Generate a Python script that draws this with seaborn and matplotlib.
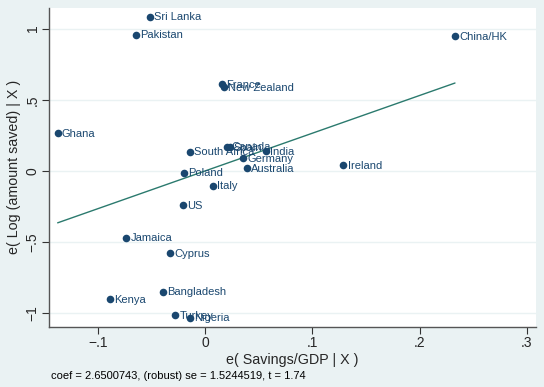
import numpy as np
import pandas as pd
import matplotlib
matplotlib.use("Agg")
import matplotlib.pyplot as plt
import seaborn as sns

# residuals
countries = ["Sri Lanka", "Pakistan", "China/HK", "France", "New Zealand", "Ghana",
             "Canada", "Spain", "South Africa", "India", "Germany", "Australia",
             "Poland", "Ireland", "Italy", "US", "Jamaica", "Cyprus",
             "Bangladesh", "Kenya", "Turkey", "Nigeria"]
e_savings = [-0.0513, -0.0646, 0.233, 0.0156, 0.018, -0.1373,
             0.0208, 0.023, -0.014, 0.0569, 0.0357, 0.0394,
             -0.0196, 0.129, 0.0075, -0.0208, -0.0733, -0.0323,
             -0.0389, -0.0885, -0.0277, -0.014]
e_logsaved = [1.083, 0.957, 0.947, 0.611, 0.587, 0.265,
              0.171, 0.166, 0.136, 0.138, 0.089, 0.019,
              -0.012, 0.042, -0.103, -0.239, -0.468, -0.578,
              -0.847, -0.900, -1.013, -1.029]

coef = 2.6500743
se = 1.5244519
t_stat = 1.74

xticks = [-0.1, 0, 0.1, 0.2, 0.3]
xticklabels = ["\u2212.1", "0", ".1", ".2", ".3"]
yticks = [-1, -0.5, 0, 0.5, 1]
yticklabels = ["\u22121", "\u2212.5", "0", ".5", "1"]

df = pd.DataFrame({"country": countries, "x": e_savings, "y": e_logsaved})

sns.set_style("white")
plt.rcParams["font.family"] = ["Liberation Sans", "DejaVu Sans"]

navy = "#1a476f"
bg = "#eaf2f3"

fig = plt.figure(figsize=(5.44, 3.87), dpi=100, facecolor=bg)
ax = fig.add_axes([0.0906, 0.1558, 0.8947, 0.8235])
ax.set_facecolor("white")

# horizontal grid lines
for yv in yticks:
    ax.axhline(yv, color=bg, lw=1.0, zorder=0)

# fitted line through origin with the reported slope
xs = np.array([df["x"].min(), df["x"].max()])
line_df = pd.DataFrame({"x": xs, "y": coef * xs})
sns.lineplot(data=line_df, x="x", y="y", color="#2b7a6e", lw=1.0, ax=ax, zorder=2)

sns.scatterplot(data=df, x="x", y="y", color=navy, s=30, edgecolor=navy,
                linewidth=0, ax=ax, zorder=3)

for _, r in df.iterrows():
    ax.annotate(r["country"], (r["x"], r["y"]), xytext=(3, -0.5),
                textcoords="offset points", ha="left", va="center",
                fontsize=8, color=navy, zorder=4)

ax.set_xlim(-0.1451, 0.3085)
ax.set_ylim(-1.093, 1.144)
ax.set_xticks(xticks)
ax.set_xticklabels(xticklabels, fontsize=10)
ax.set_yticks(yticks)
ax.set_yticklabels(yticklabels, fontsize=10, rotation=90, va="center")
ax.tick_params(axis="both", direction="out", length=5, width=0.8, color="#333333",
               bottom=True, left=True, pad=2)

for side in ["top", "right"]:
    ax.spines[side].set_visible(False)
for side in ["left", "bottom"]:
    ax.spines[side].set_color("#555555")
    ax.spines[side].set_linewidth(1.0)

ax.set_xlabel("e( Savings/GDP | X )", fontsize=10.3, labelpad=2)
ax.set_ylabel("e( Log (amount saved) | X )", fontsize=10.3, labelpad=3)

fig.text(51 / 544, 1 - 376 / 387,
         "coef = {:.7f}, (robust) se = {:.7f}, t = {:.2f}".format(coef, se, t_stat),
         fontsize=8, color="black", va="center", ha="left")

fig.savefig("out.png", dpi=100, facecolor=bg)
